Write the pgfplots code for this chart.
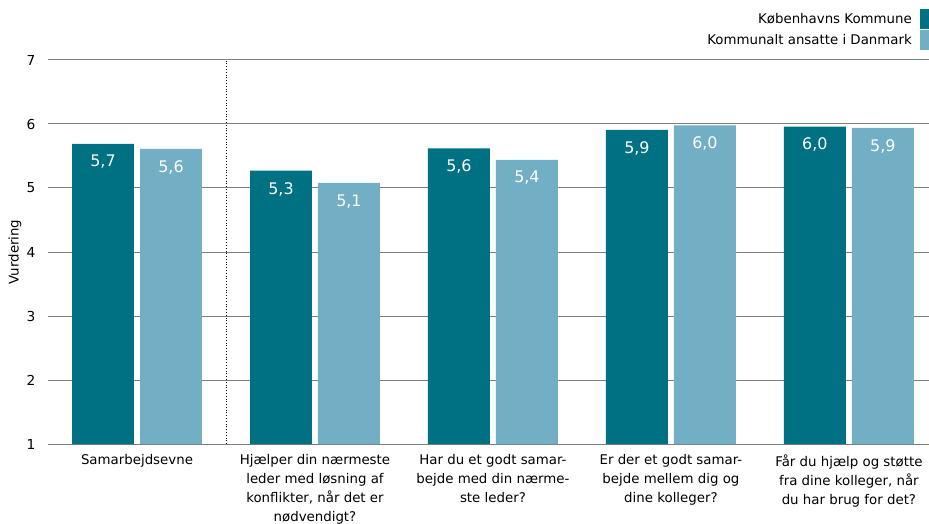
\documentclass[border=0pt]{standalone}
\usepackage{pgfplots}
\pgfplotsset{compat=1.18}
\usepackage{fontspec}
\setmainfont{DejaVu Sans}
\definecolor{darkteal}{HTML}{007183}
\definecolor{lightteal}{HTML}{72AFC4}
\definecolor{gridgray}{HTML}{7F7F7F}
\begin{document}
\begin{tikzpicture}
\begin{axis}[
  at={(0,0)}, anchor=south west,
  scale only axis, width=881bp, height=384bp,
  ymin=1, ymax=7, ytick={1,2,3,4,5,6,7},
  /pgf/number format/assume math mode=true,
  xmin=-0.5, xmax=4.45,
  xtick={0,1,2,3,4},
  xticklabels={
    {Samarbejdsevne},
    {Hjælper din nærmeste\\leder med løsning af\\konflikter, når det er\\nødvendigt?},
    {Har du et godt samar-\\bejde med din nærme-\\ste leder?},
    {Er der et godt samar-\\bejde mellem dig og\\dine kolleger?},
    {Får du hjælp og støtte\\fra dine kolleger, når\\du har brug for det?}},
  xticklabel style={align=center, font=\fontsize{13.4}{19}\selectfont, yshift=-7bp},
  yticklabel style={font=\fontsize{13.8}{16}\selectfont, xshift=-9bp},
  major tick length=0pt,
  axis line style={draw=none},
  ymajorgrids, grid style={gridgray, line width=1bp},
  ylabel={Vurdering},
  every axis y label/.style={at={(rel axis cs:0,0.5)}, xshift=-33bp, rotate=90, anchor=center, font=\fontsize{13.4}{16}\selectfont},
  ybar, bar width=0.348,
  nodes near coords={\pgfmathprintnumber[fixed,fixed zerofill,precision=1,use comma,assume math mode=true]{\pgfplotspointmeta}},
  nodes near coords style={white, anchor=north, yshift=-8bp, font=\fontsize{16}{16}\selectfont},
  legend plot pos=right,
  legend cell align=right,
  legend style={at={(rel axis cs:1,1)}, anchor=south east, yshift=10bp, draw=none, fill=none, inner sep=0pt, row sep=1bp,
    font=\fontsize{13.4}{16}\selectfont,
    /tikz/every odd column/.style={column sep=6bp}},
  legend image code/.code={\fill[#1,draw=none] (0bp,-10bp) rectangle (9bp,10bp);},
]
\addplot[fill=darkteal, draw=none, bar shift=-0.191] coordinates {(0,5.69) (1,5.27) (2,5.62) (3,5.91) (4,5.96)};
\addplot[fill=lightteal, draw=none, bar shift=0.191] coordinates {(0,5.61) (1,5.08) (2,5.44) (3,5.98) (4,5.94)};
\legend{Københavns Kommune, Kommunalt ansatte i Danmark}
\draw[black, dotted, line width=0.8bp] (axis cs:0.5,1) -- (axis cs:0.5,7.05);
\end{axis}
\pgfresetboundingbox
\useasboundingbox (-48bp,-80bp) rectangle (881bp,444bp);
\end{tikzpicture}
\end{document}
